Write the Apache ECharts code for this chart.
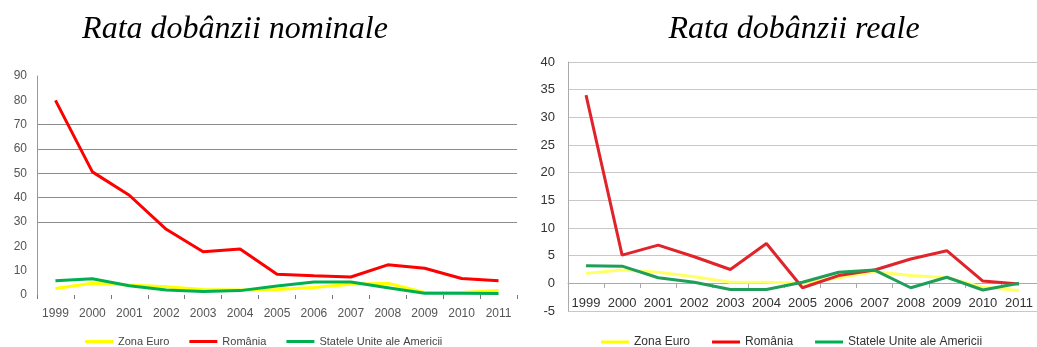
<!DOCTYPE html>
<html><head><meta charset="utf-8">
<script src="https://cdn.jsdelivr.net/npm/echarts@6/dist/echarts.min.js"></script>
<style>html,body{margin:0;padding:0;background:#fff}#c{width:1037px;height:347px}</style>
</head><body><div id="c"></div>
<script>
const years = ['1999','2000','2001','2002','2003','2004','2005','2006','2007','2008','2009','2010','2011'];
const seriesNames = ['Zona Euro','România','Statele Unite ale Americii'];
// Rata dobânzii nominale
const nomEuro = [2.7,4.8,4.1,3.4,2.3,2.1,2.3,3.1,4.4,4.8,1.0,1.0,1.8];
const nomRo   = [80,50.6,41,27,17.8,18.9,8.5,7.9,7.4,12.4,11,6.8,5.9];
const nomUsa  = [5.9,6.7,3.8,2.1,1.4,1.8,3.7,5.3,5.3,3.0,0.7,0.7,0.6];
// Rata dobânzii reale
const realEuro = [1.8,2.4,2.0,1.2,0.2,0.2,0.0,1.0,2.1,1.4,1.0,-0.7,-1.3];
const realRo   = [34,5.1,6.9,4.8,2.5,7.2,-0.8,1.4,2.4,4.4,5.9,0.4,-0.1];
const realUsa  = [3.2,3.1,1.0,0.2,-1.1,-1.1,0.2,2.0,2.4,-0.8,1.1,-1.2,0.0];
const titles = ['Rata dobânzii nominale','Rata dobânzii reale'];

const leftColors = ['#FFFF00','#FF0000','#00B050'];
const rightColors = ['#FFFF66','#E0242B','#1F9E5A'];

const chart = echarts.init(document.getElementById('c'));
function mk(name, data, color, idx){
  return {type:'line', name:name, data:data, xAxisIndex:idx, yAxisIndex:idx,
    symbol:'none', lineStyle:{width:3, color:color}, itemStyle:{color:color}};
}
const titleStyle = {fontFamily:'Liberation Serif', fontStyle:'italic', fontWeight:'normal', fontSize:32, color:'#000'};
chart.setOption({
  animation:false,
  title:[
    {text:titles[0], left:230, textAlign:'center', top:9, textStyle:titleStyle},
    {text:titles[1], left:789, textAlign:'center', top:9, textStyle:titleStyle}
  ],
  legend:[
    {data:seriesNames, left:80, top:331, icon:'rect', itemWidth:28, itemHeight:3, itemGap:20, selectedMode:false,
     textStyle:{fontFamily:'Liberation Sans Narrow, Liberation Sans', fontSize:11, color:'#444'}},
    {data:seriesNames, left:596, top:331, icon:'rect', itemWidth:28, itemHeight:3, itemGap:22, selectedMode:false,
     textStyle:{fontFamily:'Liberation Sans', fontSize:12, color:'#333'}}
  ],
  grid:[
    {left:37, right:520, top:76, bottom:52},
    {left:568, width:475, top:62, bottom:36}
  ],
  xAxis:[
    {type:'category', gridIndex:0, data:years, boundaryGap:true,
     axisLine:{show:false}, axisTick:{show:true, length:4, lineStyle:{color:'#777'}},
     axisLabel:{interval:0, fontFamily:'Liberation Sans Narrow, Liberation Sans', fontSize:12, color:'#555', margin:13}},
    {type:'category', gridIndex:1, data:years, boundaryGap:true, position:'bottom', offset:-28,
     axisLine:{show:true, onZero:false, lineStyle:{color:'#aaa'}}, axisTick:{show:true, length:5, lineStyle:{color:'#aaa'}},
     axisLabel:{interval:0, fontFamily:'Liberation Sans', fontSize:13, color:'#333', margin:14}}
  ],
  yAxis:[
    {type:'value', gridIndex:0, min:0, max:90, interval:10,
     axisLine:{show:true, lineStyle:{color:'#999'}}, axisTick:{show:false},
     axisLabel:{fontFamily:'Liberation Sans Narrow, Liberation Sans', fontSize:12, color:'#555', margin:10},
     splitLine:{show:true, lineStyle:{color:['rgba(0,0,0,0)','rgba(0,0,0,0)','rgba(0,0,0,0)','#8c8c8c','#8c8c8c','#8c8c8c','#8c8c8c','#8c8c8c','rgba(0,0,0,0)','rgba(0,0,0,0)'], width:1}}},
    {type:'value', gridIndex:1, min:-5, max:40, interval:5,
     axisLine:{show:true, lineStyle:{color:'#aaa'}}, axisTick:{show:false},
     axisLabel:{fontFamily:'Liberation Sans', fontSize:13, color:'#333', margin:13},
     splitLine:{show:true, lineStyle:{color:'#c8c8c8', width:1}}}
  ],
  series:[
    mk(seriesNames[0], nomEuro, leftColors[0], 0),
    mk(seriesNames[2], nomUsa, leftColors[2], 0),
    mk(seriesNames[1], nomRo, leftColors[1], 0),
    mk(seriesNames[0], realEuro, rightColors[0], 1),
    mk(seriesNames[1], realRo, rightColors[1], 1),
    mk(seriesNames[2], realUsa, rightColors[2], 1)
  ]
});
</script></body></html>
